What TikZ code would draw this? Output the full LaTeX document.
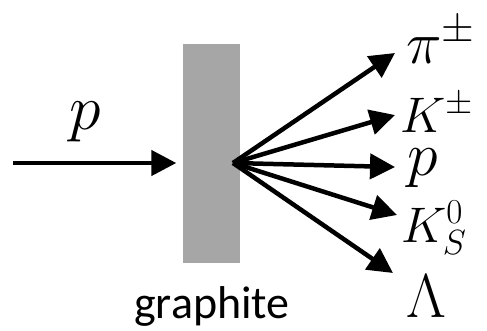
\RequirePackage{fix-cm}
\documentclass[tikz,border=0pt]{standalone}
\usepackage[no-math]{fontspec}
\newfontfamily\calibri{Carlito}
\usetikzlibrary{arrows.meta}
\definecolor{slabgray}{RGB}{166,166,166}
\tikzset{
  beam/.style={line width=4.5pt, -{Triangle[length=25pt,width=25pt]}},
  lab/.style={inner sep=0pt, anchor=base west},
}
\begin{document}
\begin{tikzpicture}[x=1pt,y=-1pt]
\useasboundingbox (0,0) rectangle (487,330);
\node[fill=slabgray, minimum width=57pt, minimum height=219pt, inner sep=0pt] (slab) at (211.5,153.5) {};
\coordinate (src) at (13,163);
\coordinate (vtx) at (233,163);
\coordinate (tpi) at (395,53);
\coordinate (tK) at (395,115);
\coordinate (tp) at (395,167);
\coordinate (tKs) at (397,215);
\coordinate (tL) at (393,273);
\draw[beam, shorten >=6.5pt] (src) -- (src -| slab.west);
\node[lab, font=\fontsize{64}{64}\selectfont] (pin) at (69,129) {$p$};
\draw[beam] (vtx) -- (tpi);
\draw[beam] (vtx) -- (tK);
\draw[beam] (vtx) -- (tp);
\draw[beam] (vtx) -- (tKs);
\draw[beam] (vtx) -- (tL);
\node[lab, font=\fontsize{60}{60}\selectfont] (pi) at (406,63) {$\pi^{\pm}$};
\node[lab, font=\fontsize{50}{50}\selectfont] (K) at (400,132) {$K^{\pm}$};
\node[lab, font=\fontsize{62}{62}\selectfont] (pout) at (407,175) {$p$};
\node[lab, font=\fontsize{50}{50}\selectfont] (Ks) at (401,242) {$K^0_S$};
\node[lab, font=\fontsize{62}{62}\selectfont] (L) at (406,317) {$\Lambda$};
\node[inner sep=0pt, anchor=base, font=\calibri\fontsize{46}{46}\selectfont] (gr) at (212,318) {graphite};
\end{tikzpicture}
\end{document}
